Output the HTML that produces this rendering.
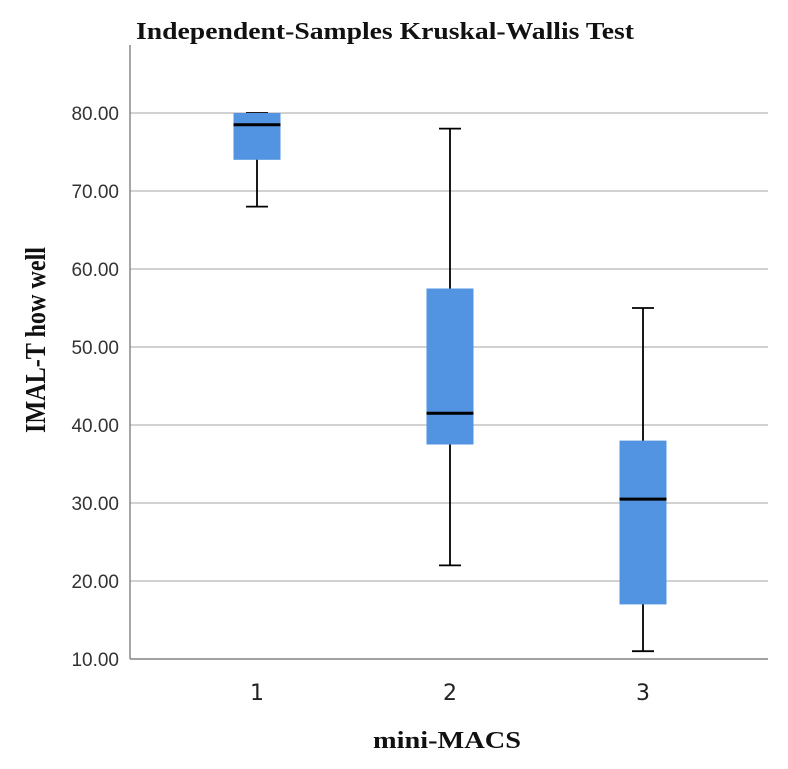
<!DOCTYPE html>
<html><head><meta charset="utf-8"><style>
body{margin:0;background:#fff;}
svg{display:block;}
</style></head><body>
<svg id="chart" width="788" height="769" xmlns="http://www.w3.org/2000/svg">
<text x="385" y="39" text-anchor="middle" font-family="Liberation Serif, serif" font-weight="bold" font-size="24" textLength="498" lengthAdjust="spacingAndGlyphs" fill="#111">Independent-Samples Kruskal-Wallis Test</text>
<text transform="translate(45,340) rotate(-90)" text-anchor="middle" font-family="Liberation Serif, serif" font-weight="bold" font-size="28" textLength="186" lengthAdjust="spacingAndGlyphs" fill="#111">IMAL-T how well</text>
<text x="447" y="748" text-anchor="middle" font-family="Liberation Serif, serif" font-weight="bold" font-size="24" textLength="148" lengthAdjust="spacingAndGlyphs" fill="#111">mini-MACS</text>
<g id="grid"></g>
<g id="boxes"></g>
<g id="axes"></g>
</svg>
<script>
const categories = ["1","2","3"];
const mins = [68, 22, 11];
const q1s = [74, 37.5, 17];
const medians = [78.5, 41.5, 30.5];
const q3s = [80, 57.5, 38];
const maxs = [80, 78, 55];
const yTicks = [10,20,30,40,50,60,70,80];

const NS="http://www.w3.org/2000/svg";
const plotL=130, plotR=768, plotT=45, plotB=659;
function y(v){return 659-(v-10)*(546/70);}
function x(i){return 257+i*193;}
function mk(tag,attrs,parent){const e=document.createElementNS(NS,tag);for(const k in attrs)e.setAttribute(k,attrs[k]);parent.appendChild(e);return e;}
const grid=document.getElementById('grid'), boxes=document.getElementById('boxes'), axes=document.getElementById('axes');
yTicks.forEach(t=>{
  const l=mk('line',{x1:plotL,x2:plotR,y1:y(t),y2:y(t),stroke:'#b8b8b8','stroke-width':1.3},grid);
  
  
  const tx=mk('text',{x:119,y:y(t)+7,'text-anchor':'end','font-family':'Liberation Sans, sans-serif','font-size':19,fill:'#333'},axes);
  tx.textContent=t.toFixed(2);
  
  
});
const ax1=mk('line',{x1:plotL,x2:plotL,y1:plotT,y2:plotB,stroke:'#888','stroke-width':1.5},axes);


const ax2=mk('line',{x1:plotL,x2:plotR,y1:plotB,y2:plotB,stroke:'#888','stroke-width':1.5},axes);


categories.forEach((c,i)=>{
  const cx=x(i), w=47;
  const g=mk('g',{},boxes);
  
  
  const wl=mk('line',{x1:cx,x2:cx,y1:y(maxs[i]),y2:y(mins[i]),stroke:'#000','stroke-width':1.8},g);
  
  
  [mins[i],maxs[i]].forEach(v=>{
    const cap=mk('line',{x1:cx-11,x2:cx+11,y1:y(v),y2:y(v),stroke:'#000','stroke-width':1.8},g);
    
    
  });
  const r=mk('rect',{x:cx-w/2,y:y(q3s[i]),width:w,height:y(q1s[i])-y(q3s[i]),fill:'#5294e2'},g);
  
  
  const m=mk('line',{x1:cx-w/2,x2:cx+w/2,y1:y(medians[i]),y2:y(medians[i]),stroke:'#000','stroke-width':3},g);
  
  
  const t=mk('text',{x:cx,y:700,'text-anchor':'middle','font-family':'DejaVu Sans, sans-serif','font-size':22,fill:'#222'},axes);
  t.textContent=c;
  
  
});
</script>
</body></html>
